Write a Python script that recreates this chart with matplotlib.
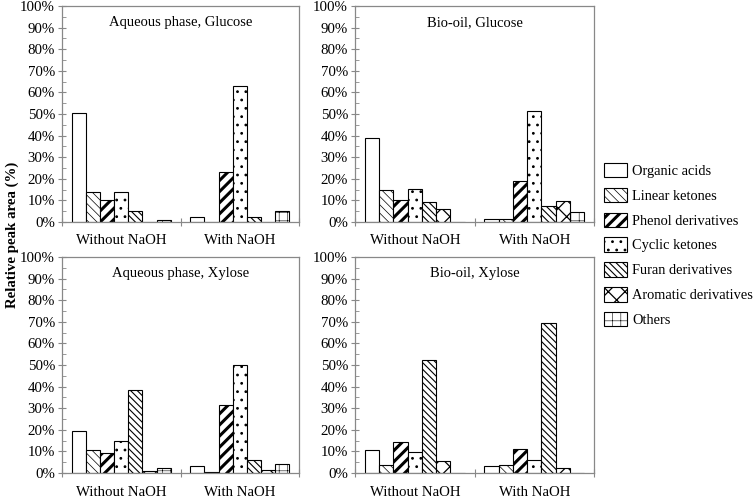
import numpy as np
import matplotlib
matplotlib.use('Agg')
from matplotlib import pyplot as plt
from matplotlib.ticker import MultipleLocator, FuncFormatter

plt.rcParams['font.family'] = ['Liberation Serif', 'DejaVu Serif']
plt.rcParams['hatch.color'] = 'black'

groups = ['Without NaOH', 'With NaOH']
compounds = ['Organic acids', 'Linear ketones', 'Phenol derivatives', 'Cyclic ketones',
             'Furan derivatives', 'Aromatic derivatives', 'Others']

# percent values, rows = compounds, columns = [without, with]
aq_glucose = [[50.4, 2.1], [14.0, 0.0], [10.2, 23.0], [13.7, 62.9],
              [5.2, 2.1], [0.0, 0.0], [0.8, 5.1]]
bio_glucose = [[38.7, 1.2], [14.7, 1.2], [10.4, 19.2], [15.1, 51.6],
               [9.4, 7.4], [6.2, 9.9], [0.0, 4.5]]
aq_xylose = [[19.4, 3.2], [10.6, 0.3], [9.3, 31.3], [14.8, 49.8],
             [38.4, 5.9], [0.9, 1.2], [2.3, 4.0]]
bio_xylose = [[10.5, 3.4], [3.9, 3.9], [14.5, 11.1], [9.9, 6.2],
              [52.2, 69.3], [5.4, 2.5], [0.0, 0.0]]

titles = ['Aqueous phase, Glucose', 'Bio-oil, Glucose', 'Aqueous phase, Xylose', 'Bio-oil, Xylose']
panels = [aq_glucose, bio_glucose, aq_xylose, bio_xylose]

hatches = ['', '\\\\\\\\', '///', '..', '\\\\\\\\\\', 'xx', '++']
hatch_lw = [0.8, 0.5, 2.2, 0.8, 0.8, 0.9, 0.4]

fs = 10.7
fig = plt.figure(figsize=(7.56, 4.97), dpi=100)
W, H = 756.0, 497.0
boxes = [(62, 6, 299, 222), (355, 6, 594, 222), (62, 257, 299, 473), (355, 257, 594, 473)]

w = 0.119
x = np.arange(len(groups))
handles = []
for k, (data, title, (x0, y0, x1, y1)) in enumerate(zip(panels, titles, boxes)):
    ax = fig.add_axes([x0 / W, 1 - y1 / H, (x1 - x0) / W, (y1 - y0) / H])
    for i, (name, vals) in enumerate(zip(compounds, data)):
        with plt.rc_context({'hatch.linewidth': hatch_lw[i]}):
            bars = ax.bar(x + (i - 3) * w, vals, w, color='white', edgecolor='black',
                          linewidth=0.8, hatch=hatches[i], label=name)
        for b in bars:
            if hasattr(b, 'set_hatch_linewidth'):
                b.set_hatch_linewidth(hatch_lw[i])
        if k == 0:
            handles.append(bars)
    ax.set_xlim(-0.5, 1.5)
    ax.set_ylim(0, 100)
    ax.yaxis.set_major_locator(MultipleLocator(10))
    ax.yaxis.set_minor_locator(MultipleLocator(5))
    ax.yaxis.set_major_formatter(FuncFormatter(lambda v, p: '%d%%' % v))
    ax.set_xticks([-0.5, 0.5, 1.5])
    ax.set_xticklabels([])
    ax.set_xticks(x, minor=True)
    ax.set_xticklabels(groups, minor=True)
    ax.tick_params(axis='x', which='major', direction='inout', length=6, color='#888888')
    ax.tick_params(axis='x', which='minor', length=0, labelsize=fs, pad=9)
    ax.tick_params(axis='y', which='major', direction='inout', length=6, color='#888888',
                   labelsize=fs, pad=2)
    ax.tick_params(axis='y', which='minor', direction='in', length=3, color='#888888')
    for s in ax.spines.values():
        s.set_color('#888888')
        s.set_linewidth(0.9)
    ax.text(0.5, 0.925, title, transform=ax.transAxes, ha='center', va='center', fontsize=10.5)

with plt.rc_context({'hatch.linewidth': 0.8}):
    leg = fig.legend(handles=handles, labels=compounds, loc='upper left',
                     bbox_to_anchor=(598 / W, 1 - 157 / H),
                     frameon=False, fontsize=10.4, handlelength=1.6, handleheight=1.15,
                     handletextpad=0.35, labelspacing=0.68, borderaxespad=0)
for i, p in enumerate(leg.get_patches()):
    if hasattr(p, 'set_hatch_linewidth'):
        p.set_hatch_linewidth(hatch_lw[i])

fig.text(12 / W, 0.527, 'Relative peak area (%)', rotation=90, ha='center', va='center',
         fontsize=fs, fontweight='bold')

plt.savefig('out.png', dpi=100)
